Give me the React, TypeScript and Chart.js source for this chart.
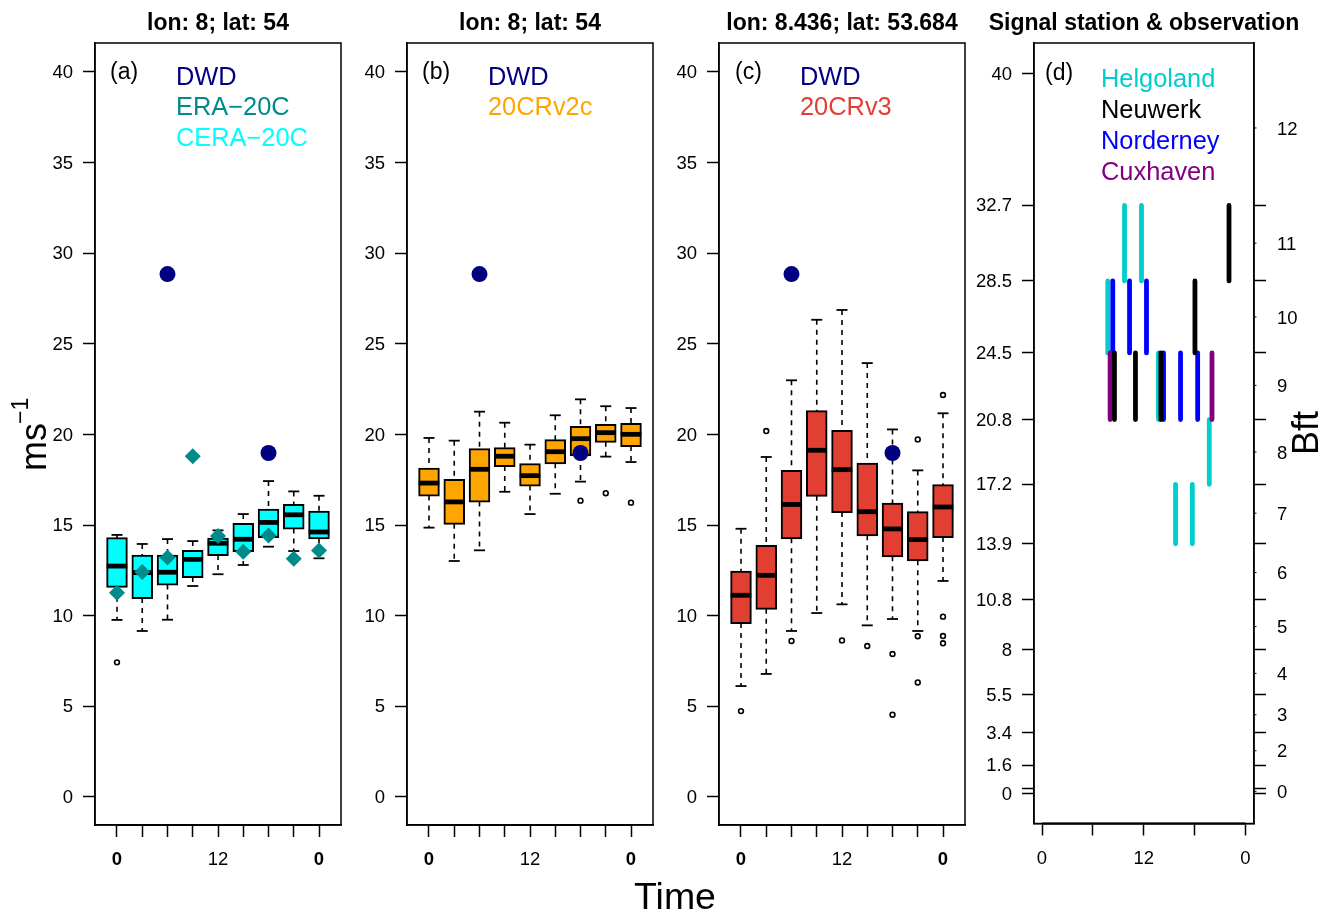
import React, { useEffect, useRef } from "react";
import { Chart, registerables } from "chart.js";

Chart.register(...registerables);

const FONT = "'Liberation Sans', Arial, sans-serif";

// ---------- shared ----------
const slots = [0, 1, 2, 3, 4, 5, 6, 7, 8];
const slotLabels = ["0", "", "", "", "12", "", "", "", "0"];
const speedTicks = [0, 5, 10, 15, 20, 25, 30, 35, 40];
const dwdSlots = [2, 6];
const dwdValues = [28.85, 18.98];

// ---------- panel (a) ----------
const aHigh = [14.46, 13.96, 14.23, 14.12, 14.71, 15.61, 17.43, 16.86, 16.62];
const aQ3 = [14.27, 13.31, 13.31, 13.57, 14.25, 15.06, 15.85, 16.11, 15.74];
const aMedian = [12.74, 12.38, 12.4, 13.11, 14.0, 14.22, 15.15, 15.57, 14.62];
const aQ1 = [11.6, 10.98, 11.73, 12.14, 13.35, 13.57, 14.35, 14.82, 14.27];
const aLow = [9.77, 9.16, 9.78, 11.64, 12.29, 12.8, 13.81, 13.57, 13.17];
const aOutlierSlots = [0];
const aOutlierValues = [7.43];
const era20c = [11.27, 12.41, 13.22, 18.8, 14.4, 13.53, 14.43, 13.15, 13.6];

// ---------- panel (b) ----------
const bHigh = [19.81, 19.66, 21.26, 20.65, 19.44, 21.06, 21.94, 21.56, 21.46];
const bQ3 = [18.11, 17.49, 19.18, 19.24, 18.36, 19.68, 20.41, 20.52, 20.58];
const bMedian = [17.32, 16.28, 18.08, 18.8, 17.73, 19.05, 19.77, 20.1, 20.01];
const bQ1 = [16.64, 15.08, 16.31, 18.26, 17.18, 18.41, 18.87, 19.6, 19.37];
const bLow = [14.86, 13.02, 13.61, 16.84, 15.61, 16.73, 17.4, 18.78, 18.48];
const bOutlierSlots = [6, 7, 8];
const bOutlierValues = [16.35, 16.76, 16.24];

// ---------- panel (c) ----------
const cHigh = [14.8, 18.76, 22.99, 26.33, 26.87, 23.94, 20.28, 18.02, 21.17];
const cQ3 = [12.43, 13.85, 17.99, 21.28, 20.19, 18.39, 16.18, 15.71, 17.2];
const cMedian = [11.13, 12.23, 16.14, 19.13, 18.06, 15.74, 14.79, 14.2, 16.0];
const cQ1 = [9.6, 10.39, 14.27, 16.62, 15.72, 14.44, 13.28, 13.06, 14.34];
const cLow = [6.12, 6.79, 9.16, 10.15, 10.63, 9.47, 9.82, 9.16, 11.92];
const cOutlierSlots = [0, 1, 2, 4, 5, 6, 6, 7, 7, 7, 8, 8, 8, 8];
const cOutlierValues = [4.74, 20.19, 8.61, 8.64, 8.33, 7.89, 4.54, 19.73, 8.87, 6.32, 22.18, 9.95, 8.88, 8.48];

// ---------- panel (d) ----------
const dHourTicks = [0, 6, 12, 18, 24];
const dHourLabels = ["0", "", "12", "", "0"];
const beaufortEdges = [40, 32.7, 28.5, 24.5, 20.8, 17.2, 13.9, 10.8, 8, 5.5, 3.4, 1.6, 0.3, 0];
const beaufortEdgeLabels = ["40", "32.7", "28.5", "24.5", "20.8", "17.2", "13.9", "10.8", "8", "5.5", "3.4", "1.6", "", "0"];
const beaufortMids = [37, 30.6, 26.5, 22.7, 19, 15.6, 12.3, 9.3, 6.7, 4.4, 2.4, 0.15];
const beaufortMidLabels = ["12", "11", "10", "9", "8", "7", "6", "5", "4", "3", "2", "0"];
const rightEdges = [32.7, 28.5, 24.5, 20.8, 17.2, 13.9, 10.8, 8, 5.5, 3.4, 1.6, 0.3, 0];

const helgolandHours = [7.76, 9.74, 11.74, 13.75, 15.76, 17.74, 19.74];
const helgolandFrom = [24.5, 28.5, 28.5, 20.8, 13.9, 13.9, 17.2];
const helgolandTo = [28.5, 32.7, 32.7, 24.5, 17.2, 17.2, 20.8];
const norderneyHours = [8.35, 10.33, 12.33, 14.34, 16.35, 18.37];
const norderneyFrom = [24.5, 24.5, 24.5, 20.8, 20.8, 20.8];
const norderneyTo = [28.5, 28.5, 28.5, 24.5, 24.5, 24.5];
const cuxhavenHours = [8.04, 20.06];
const cuxhavenFrom = [20.8, 20.8];
const cuxhavenTo = [24.5, 24.5];
const neuwerkHours = [8.55, 11.03, 14.03, 18.05, 22.07];
const neuwerkFrom = [20.8, 20.8, 20.8, 24.5, 28.5];
const neuwerkTo = [24.5, 24.5, 24.5, 28.5, 32.7];

const NAVY = "#000080";
const TEAL = "#008B8B";
const CYAN = "#00FFFF";
const ORANGE = "#FFA500";
const RED = "#E23F33";
const TURQ = "#00CDCD";
const BLUE = "#0000FF";
const PURPLE = "#800080";

type Note = { text: string; x: number; y: number; size: number; color?: string; rotate?: boolean; align?: string; baseline?: string };

const notesPlugin = {
  id: "notes",
  afterDraw(chart: any, _a: any, opts: any) {
    const ctx = chart.ctx;
    (opts.items || []).forEach((n: Note) => {
      ctx.save();
      ctx.translate(n.x - opts.left, n.y);
      if (n.rotate) ctx.rotate(-Math.PI / 2);
      ctx.font = `${n.size}px ${FONT}`;
      ctx.fillStyle = n.color || "#000";
      ctx.textAlign = (n.align as any) || "left";
      ctx.textBaseline = (n.baseline as any) || "middle";
      ctx.fillText(n.text, 0, 0);
      ctx.restore();
    });
  },
};

const framePlugin = {
  id: "frame",
  afterDatasetsDraw(chart: any) {
    const { ctx, chartArea: a, scales } = chart;
    ctx.save();
    ctx.strokeStyle = "#000";
    ctx.lineWidth = 1.5;
    ctx.strokeRect(a.left, a.top, a.right - a.left, a.bottom - a.top);
    const t = scales.x.ticks;
    ctx.lineWidth = 2.2;
    ctx.beginPath();
    ctx.moveTo(scales.x.getPixelForValue(t[0].value), a.bottom);
    ctx.lineTo(scales.x.getPixelForValue(t[t.length - 1].value), a.bottom);
    ctx.stroke();
    const y2 = scales.y2;
    if (y2) {
      ctx.lineWidth = 1;
      beaufortMids.forEach((v) => {
        const p = y2.getPixelForValue(v);
        ctx.beginPath();
        ctx.moveTo(a.right, p);
        ctx.lineTo(a.right + 2.5, p);
        ctx.stroke();
      });
    }
    ctx.restore();
  },
};

function fixed(prop: "width" | "height", size: number) {
  return (scale: any) => {
    scale[prop] = size;
  };
}

function makeTicks(values: number[]) {
  return (scale: any) => {
    scale.ticks = values.map((value) => ({ value }));
  };
}

function axisBase(tickValues: number[], labels: string[], fit: any) {
  return {
    grid: { drawOnChartArea: false, drawTicks: true, tickLength: 12, tickWidth: 1.5, tickColor: "#000", offset: false },
    border: { display: true, color: "#000", width: 1.5 },
    afterBuildTicks: makeTicks(tickValues),
    afterFit: fit,
    ticks: {
      autoSkip: false,
      maxRotation: 0,
      minRotation: 0,
      color: "#000",
      font: { family: FONT, size: 18.5 },
      callback: (v: number) => {
        const i = tickValues.indexOf(v);
        return i >= 0 ? labels[i] : "";
      },
    },
  };
}

function pts(xs: number[], ys: number[]) {
  return xs.map((x, i) => ({ x, y: ys[i] }));
}

function boxDatasets(high: number[], q3: number[], med: number[], q1: number[], low: number[], fill: string, outX: number[], outY: number[]) {
  const whiskers: any[] = [];
  slots.forEach((x, i) => {
    whiskers.push({ x, y: high[i] }, { x, y: q3[i] }, { x, y: NaN }, { x, y: q1[i] }, { x, y: low[i] }, { x, y: NaN });
  });
  const marker = (data: any[], style: string, radius: number, width: number, order: number, label: string) => ({
    type: "scatter",
    label,
    data,
    order,
    showLine: false,
    pointStyle: style,
    pointRadius: radius,
    pointHoverRadius: radius,
    pointBorderWidth: width,
    pointBorderColor: "#000",
    pointBackgroundColor: "#fff",
  });
  return [
    {
      type: "line",
      label: "whiskers",
      data: whiskers,
      order: 10,
      borderColor: "#000",
      borderWidth: 1.6,
      borderDash: [5, 5],
      pointRadius: 0,
      spanGaps: false,
      fill: false,
    },
    marker(pts(slots, high), "line", 5.5, 1.8, 9, "upper whisker"),
    marker(pts(slots, low), "line", 5.5, 1.8, 9, "lower whisker"),
    {
      type: "bar",
      label: "box",
      data: slots.map((x, i) => ({ x, y: [q1[i], q3[i]] })),
      order: 5,
      backgroundColor: fill,
      borderColor: "#000",
      borderWidth: 2,
      borderSkipped: false,
      inflateAmount: 1,
      barThickness: 19.5,
    },
    marker(pts(slots, med), "line", 10.3, 4.8, 4, "median"),
    marker(pts(outX, outY), "circle", 2.4, 1.6, 3, "outliers"),
  ];
}

function dwdDataset() {
  return {
    type: "scatter",
    label: "DWD",
    data: pts(dwdSlots, dwdValues),
    order: 1,
    showLine: false,
    pointStyle: "circle",
    pointRadius: 8,
    pointHoverRadius: 8,
    pointBorderWidth: 0,
    pointBackgroundColor: NAVY,
  };
}

function diamondDataset() {
  return {
    type: "scatter",
    label: "ERA-20C",
    data: pts(slots, era20c),
    order: 2,
    showLine: false,
    pointStyle: "rectRot",
    pointRadius: 8,
    pointHoverRadius: 8,
    pointBorderWidth: 0,
    pointBackgroundColor: TEAL,
  };
}

function stationDataset(label: string, color: string, hours: number[], from: number[], to: number[], order: number) {
  const data: any[] = [];
  hours.forEach((x, i) => {
    data.push({ x, y: from[i] }, { x, y: to[i] }, { x, y: NaN });
  });
  return {
    type: "line",
    label,
    data,
    order,
    borderColor: color,
    borderWidth: 4.8,
    borderCapStyle: "round",
    pointRadius: 0,
    spanGaps: false,
    fill: false,
  };
}

function titleOpts(text: string) {
  return {
    display: true,
    text,
    color: "#000",
    font: { family: FONT, size: 23, weight: "bold", lineHeight: 1.2 },
    padding: { top: 9.5, bottom: 5.9 },
  };
}

const W = 436;
const H = 915;

function boxConfig(left: number, title: string, datasets: any[], notes: Note[]) {
  const xAxis: any = axisBase(slots, slotLabels, fixed("height", 90));
  xAxis.type = "linear";
  xAxis.offset = false;
  xAxis.min = -0.871;
  xAxis.max = 8.871;
  xAxis.ticks.padding = 12;
  xAxis.ticks.font = (c: any) => ({
    family: FONT,
    size: 18.5,
    weight: c.tick && c.tick.value !== 4 ? "bold" : "normal",
  });
  const yAxis: any = axisBase(speedTicks, speedTicks.map(String), fixed("width", 95));
  yAxis.type = "linear";
  yAxis.min = -1.545;
  yAxis.max = 41.6;
  yAxis.ticks.padding = 10;
  yAxis.ticks.labelOffset = 1;
  // Empty right-hand axis: keeps the title centred above the panel.
  const spacer: any = {
    type: "linear",
    position: "right",
    display: true,
    min: -1.545,
    max: 41.6,
    grid: { display: false, drawTicks: false },
    border: { display: false },
    ticks: { display: false },
    afterFit: fixed("width", W - 341),
  };
  return {
    type: "bar",
    data: { datasets },
    options: {
      animation: false,
      responsive: false,
      maintainAspectRatio: false,
      scales: { x: xAxis, y: yAxis, spacer },
      plugins: {
        legend: { display: false },
        tooltip: { enabled: false },
        title: titleOpts(title),
        notes: { left, items: notes },
      },
    },
    plugins: [framePlugin, notesPlugin],
  };
}

function stationConfig(left: number, width: number) {
  const xAxis: any = axisBase(dHourTicks, dHourLabels, fixed("height", 91.5));
  xAxis.type = "linear";
  xAxis.offset = false;
  xAxis.min = -0.946;
  xAxis.max = 25.02;
  xAxis.ticks.padding = 12;
  const yAxis: any = axisBase(beaufortEdges, beaufortEdgeLabels, fixed("width", 1034 - left));
  yAxis.type = "linear";
  yAxis.min = -1.64;
  yAxis.max = 41.72;
  yAxis.ticks.padding = 10;
  yAxis.ticks.labelOffset = 1;
  const allRight = [...rightEdges, ...beaufortMids];
  const allRightLabels = [...rightEdges.map(() => ""), ...beaufortMidLabels];
  const y2: any = axisBase(allRight, allRightLabels, fixed("width", left + width - 1254));
  y2.type = "linear";
  y2.position = "right";
  y2.min = -1.64;
  y2.max = 41.72;
  y2.ticks.padding = 11;
  y2.ticks.labelOffset = 1.5;
  y2.grid.tickColor = (c: any) => (c.tick && rightEdges.includes(c.tick.value) ? "#000" : "rgba(0,0,0,0)");
  const notes: Note[] = [
    { text: "(d)", x: 1045, y: 73.5, size: 23 },
    { text: "Helgoland", x: 1101, y: 80, size: 25.4, color: TURQ },
    { text: "Neuwerk", x: 1101, y: 111, size: 25.4 },
    { text: "Norderney", x: 1101, y: 142, size: 25.4, color: BLUE },
    { text: "Cuxhaven", x: 1101, y: 173, size: 25.4, color: PURPLE },
    { text: "Bft", x: 1308, y: 433, size: 36, rotate: true, align: "center" },
  ];
  return {
    type: "line",
    data: {
      datasets: [
        stationDataset("Helgoland", TURQ, helgolandHours, helgolandFrom, helgolandTo, 4),
        stationDataset("Norderney", BLUE, norderneyHours, norderneyFrom, norderneyTo, 3),
        stationDataset("Cuxhaven", PURPLE, cuxhavenHours, cuxhavenFrom, cuxhavenTo, 2),
        stationDataset("Neuwerk", "#000", neuwerkHours, neuwerkFrom, neuwerkTo, 1),
      ],
    },
    options: {
      animation: false,
      responsive: false,
      maintainAspectRatio: false,
      scales: { x: xAxis, y: yAxis, y2 },
      plugins: {
        legend: { display: false },
        tooltip: { enabled: false },
        title: titleOpts("Signal station & observation"),
        notes: { left, items: notes },
      },
    },
    plugins: [framePlugin, notesPlugin],
  };
}

const panels = [
  {
    left: 0,
    width: W,
    build: () =>
      boxConfig(
        0,
        "lon: 8; lat: 54",
        [...boxDatasets(aHigh, aQ3, aMedian, aQ1, aLow, CYAN, aOutlierSlots, aOutlierValues), diamondDataset(), dwdDataset()],
        [
          { text: "(a)", x: 110, y: 72.5, size: 23 },
          { text: "DWD", x: 176, y: 78, size: 25.4, color: NAVY },
          { text: "ERA\u221220C", x: 176, y: 108, size: 25.4, color: TEAL },
          { text: "CERA\u221220C", x: 176, y: 139, size: 25.4, color: CYAN },
          { text: "ms", x: 46, y: 471, size: 36, rotate: true, baseline: "alphabetic" },
          { text: "\u22121", x: 27.5, y: 424, size: 23, rotate: true, baseline: "alphabetic" },
        ],
      ),
  },
  {
    left: 312,
    width: W,
    build: () =>
      boxConfig(
        312,
        "lon: 8; lat: 54",
        [...boxDatasets(bHigh, bQ3, bMedian, bQ1, bLow, ORANGE, bOutlierSlots, bOutlierValues), dwdDataset()],
        [
          { text: "(b)", x: 422, y: 72.5, size: 23 },
          { text: "DWD", x: 488, y: 78, size: 25.4, color: NAVY },
          { text: "20CRv2c", x: 488, y: 108, size: 25.4, color: ORANGE },
          { text: "Time", x: 675, y: 899, size: 37.5, align: "center" },
        ],
      ),
  },
  {
    left: 624,
    width: W,
    build: () =>
      boxConfig(
        624,
        "lon: 8.436; lat: 53.684",
        [...boxDatasets(cHigh, cQ3, cMedian, cQ1, cLow, RED, cOutlierSlots, cOutlierValues), dwdDataset()],
        [
          { text: "(c)", x: 735, y: 72.5, size: 23 },
          { text: "DWD", x: 800, y: 78, size: 25.4, color: NAVY },
          { text: "20CRv3", x: 800, y: 108, size: 25.4, color: RED },
        ],
      ),
  },
  { left: 957, width: 374, build: () => stationConfig(957, 374) },
];

function Panel({ left, width, build }: { left: number; width: number; build: () => any }) {
  const ref = useRef<HTMLCanvasElement | null>(null);
  useEffect(() => {
    const chart = new Chart(ref.current as HTMLCanvasElement, build());
    return () => chart.destroy();
  }, []);
  return <canvas ref={ref} width={width} height={H} style={{ position: "absolute", left, top: 0, width, height: H, display: "block" }} />;
}

export default function App() {
  return (
    <div style={{ position: "absolute", left: 0, top: 0, width: 1331, height: 915, overflow: "hidden", background: "#fff" }}>
      {panels.map((p) => (
        <Panel key={p.left} left={p.left} width={p.width} build={p.build} />
      ))}
    </div>
  );
}
